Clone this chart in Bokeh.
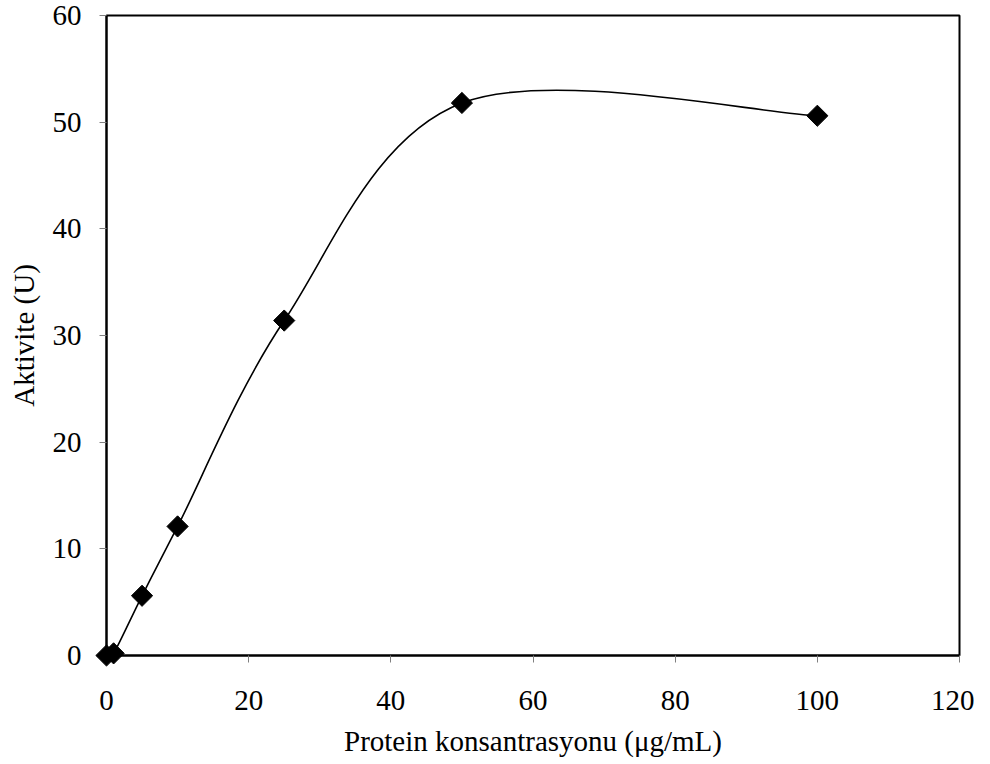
import math
from bokeh.plotting import figure
from bokeh.models import Range1d, FixedTicker
from bokeh.embed import file_html
from bokeh.resources import INLINE

# Data
conc = [0, 1, 5, 10, 25, 50, 100]
activity = [0, 0.2, 5.6, 12.1, 31.4, 51.8, 50.6]
x_ticks = [0, 20, 40, 60, 80, 100, 120]
y_ticks = [0, 10, 20, 30, 40, 50, 60]
x_label = "Protein konsantrasyonu (\u03bcg/mL)"
y_label = "Aktivite (U)"

FONT = "Liberation Serif"

p = figure(frame_width=853, frame_height=640, output_backend="svg", toolbar_location=None,
           x_range=Range1d(0, 120), y_range=Range1d(0, 60),
           min_border_left=106, min_border_right=15, min_border_top=15, min_border_bottom=90)
p.grid.visible = False
p.background_fill_color = "white"
p.border_fill_color = "white"
p.outline_line_color = "black"
p.outline_line_width = 2

for ax, ticks in ((p.xaxis[0], x_ticks), (p.yaxis[0], y_ticks)):
    ax.ticker = FixedTicker(ticks=ticks)
    ax.axis_line_color = "black"
    ax.axis_line_width = 2
    ax.major_tick_in = 0
    ax.major_tick_out = 7
    ax.major_tick_line_color = "#808080"
    ax.major_tick_line_width = 1
    ax.minor_tick_line_color = None
    ax.major_label_text_font = FONT
    ax.major_label_text_font_size = "29px"
    ax.major_label_text_color = "black"
    ax.axis_label_text_font = FONT
    ax.axis_label_text_font_size = "29px"
    ax.axis_label_text_font_style = "normal"
    ax.axis_label_text_color = "black"

p.xaxis.axis_label = x_label
p.yaxis.axis_label = y_label
p.xaxis.major_label_standoff = 28
p.yaxis.major_label_standoff = 18
p.xaxis.axis_label_standoff = 12
p.yaxis.axis_label_standoff = 10

# Smoothed line (Catmull-Rom style Bezier control points from the data)
n = len(conc)
x0s, y0s, x1s, y1s, cx0s, cy0s, cx1s, cy1s = [], [], [], [], [], [], [], []
for i in range(n - 1):
    pa = (conc[max(i - 1, 0)], activity[max(i - 1, 0)])
    pb = (conc[i], activity[i])
    pc = (conc[i + 1], activity[i + 1])
    pd = (conc[min(i + 2, n - 1)], activity[min(i + 2, n - 1)])
    x0s.append(pb[0]); y0s.append(pb[1])
    x1s.append(pc[0]); y1s.append(pc[1])
    cx0s.append(pb[0] + (pc[0] - pa[0]) / 6.0)
    cy0s.append(pb[1] + (pc[1] - pa[1]) / 6.0)
    cx1s.append(pc[0] - (pd[0] - pb[0]) / 6.0)
    cy1s.append(pc[1] - (pd[1] - pb[1]) / 6.0)

p.bezier(x0=x0s, y0=y0s, x1=x1s, y1=y1s, cx0=cx0s, cy0=cy0s, cx1=cx1s, cy1=cy1s,
         line_color="black", line_width=1.6)

p.scatter(conc, activity, marker="square", size=15, angle=math.pi / 4,
          fill_color="black", line_color="black", level="overlay")

open("out.html", "w").write(file_html(p, INLINE))
